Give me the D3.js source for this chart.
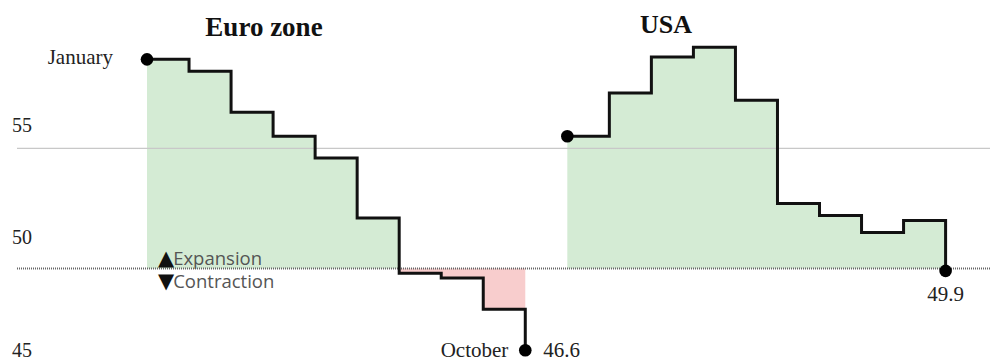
<!DOCTYPE html>
<html>
<head>
<meta charset="utf-8">
<script src="https://cdn.jsdelivr.net/npm/d3@7"></script>
<style>
  html, body { margin: 0; padding: 0; background: #fff; }
  svg { display: block; }
</style>
</head>
<body>
<svg id="chart" width="990" height="363"></svg>
<script>
// Monthly PMI readings, January to October
const months = ["January", "February", "March", "April", "May", "June", "July", "August", "September", "October"];
const euroValues = [58.7, 58.2, 56.5, 55.5, 54.6, 52.1, 49.8, 49.6, 48.3, 46.6];
const usaValues = [55.5, 57.3, 58.8, 59.2, 57.0, 52.7, 52.2, 51.5, 52.0, 49.9];
const yTicks = [55, 50, 45];
const panelTitles = ["Euro zone", "USA"];
const threshold = 50;

const svg = d3.select("#chart");
const W = 990;

// One shared horizontal slot scale: Euro zone uses slots 0-9, USA slots 10-19
const x = d3.scaleLinear().domain([0, 19]).range([147, 945.6]);
const y = d3.scaleLinear().domain([45, 55]).range([388.7, 148.3]);
// tick labels sit above their reference lines
const yLabel = d3.scaleLinear().domain([45, 55]).range([356.5, 131.5]);

const serif = "'Liberation Serif', 'Times New Roman', serif";
const sans = "'Open Sans', 'Noto Sans', sans-serif";

const series = [
  { name: panelTitles[0], values: euroValues, offset: 0 },
  { name: panelTitles[1], values: usaValues, offset: 10 }
];

const pts = s => s.values.map((v, i) => ({ i: i + s.offset, v, m: months[i] }));

// shaded areas between the step line and the 50 threshold
const areaUp = d3.area().curve(d3.curveStepAfter)
  .x(d => x(d.i)).y0(y(threshold)).y1(d => y(Math.max(d.v, threshold)));
const areaDown = d3.area().curve(d3.curveStepAfter)
  .x(d => x(d.i)).y0(y(threshold)).y1(d => y(Math.min(d.v, threshold)));

series.forEach(s => {
  const p = pts(s);
  svg.append("path").attr("d", areaUp(p)).attr("fill", "#d4ebd4");
  svg.append("path").attr("d", areaDown(p)).attr("fill", "#f8cdcd");
});

// reference lines
svg.append("line")
  .attr("x1", 17).attr("x2", W)
  .attr("y1", y(55)).attr("y2", y(55))
  .attr("stroke", "#c8c8c8").attr("stroke-width", 1.3);
svg.append("line")
  .attr("x1", 17).attr("x2", W)
  .attr("y1", y(threshold)).attr("y2", y(threshold))
  .attr("stroke", "#666").attr("stroke-width", 2)
  .attr("stroke-dasharray", "1,1");

// y tick labels
svg.selectAll("text.ytick").data(yTicks).join("text")
  .attr("class", "ytick")
  .attr("x", 12).attr("y", d => yLabel(d))
  .attr("font-family", serif).attr("font-size", 20).attr("fill", "#222")
  .text(d => d);

// step lines
const line = d3.line().curve(d3.curveStepAfter).x(d => x(d.i)).y(d => y(d.v));
series.forEach(s => {
  const p = pts(s);
  svg.append("path").attr("d", line(p))
    .attr("fill", "none").attr("stroke", "#111")
    .attr("stroke-width", 3).attr("stroke-linejoin", "miter");
  const ends = [p[0], p[p.length - 1]];
  svg.selectAll(null).data(ends).join("circle")
    .attr("cx", d => x(d.i)).attr("cy", d => y(d.v)).attr("r", 6.3)
    .attr("fill", "#000");
});

// panel titles
svg.append("text").attr("x", 264).attr("y", 36)
  .attr("text-anchor", "middle").attr("font-family", serif)
  .attr("font-weight", "bold").attr("font-size", 27).attr("fill", "#111")
  .text(panelTitles[0]);
svg.append("text").attr("x", 666).attr("y", 33)
  .attr("text-anchor", "middle").attr("font-family", serif)
  .attr("font-weight", "bold").attr("font-size", 26).attr("fill", "#111")
  .text(panelTitles[1]);

// endpoint annotations
const euro = pts(series[0]);
const usa = pts(series[1]);
const e0 = euro[0], eN = euro[euro.length - 1], uN = usa[usa.length - 1];

svg.append("text").attr("x", x(e0.i) - 34).attr("y", y(e0.v) + 5)
  .attr("text-anchor", "end").attr("font-family", serif)
  .attr("font-size", 21).attr("fill", "#222").text(e0.m);
svg.append("text").attr("x", x(eN.i) - 17).attr("y", 357)
  .attr("text-anchor", "end").attr("font-family", serif)
  .attr("font-size", 21).attr("fill", "#222").text(eN.m);
svg.append("text").attr("x", x(eN.i) + 18).attr("y", 357)
  .attr("font-family", serif).attr("font-size", 21).attr("fill", "#222")
  .text(d3.format(".1f")(eN.v));
svg.append("text").attr("x", x(uN.i)).attr("y", 301)
  .attr("text-anchor", "middle").attr("font-family", serif)
  .attr("font-size", 21).attr("fill", "#222")
  .text(d3.format(".1f")(uN.v));

// expansion / contraction key
const key = [
  { arrow: "▲", label: "Expansion", yy: y(threshold) - 4 },
  { arrow: "▼", label: "Contraction", yy: y(threshold) + 19 }
];
key.forEach(k => {
  const t = svg.append("text").attr("x", 158).attr("y", k.yy);
  t.append("tspan").attr("font-family", "'DejaVu Sans', sans-serif")
    .attr("fill", "#111").attr("font-size", 21).text(k.arrow);
  t.append("tspan").attr("font-family", sans).attr("fill", "#555")
    .attr("font-size", 18.5).attr("dx", -1).text(k.label);
});
</script>
</body>
</html>
